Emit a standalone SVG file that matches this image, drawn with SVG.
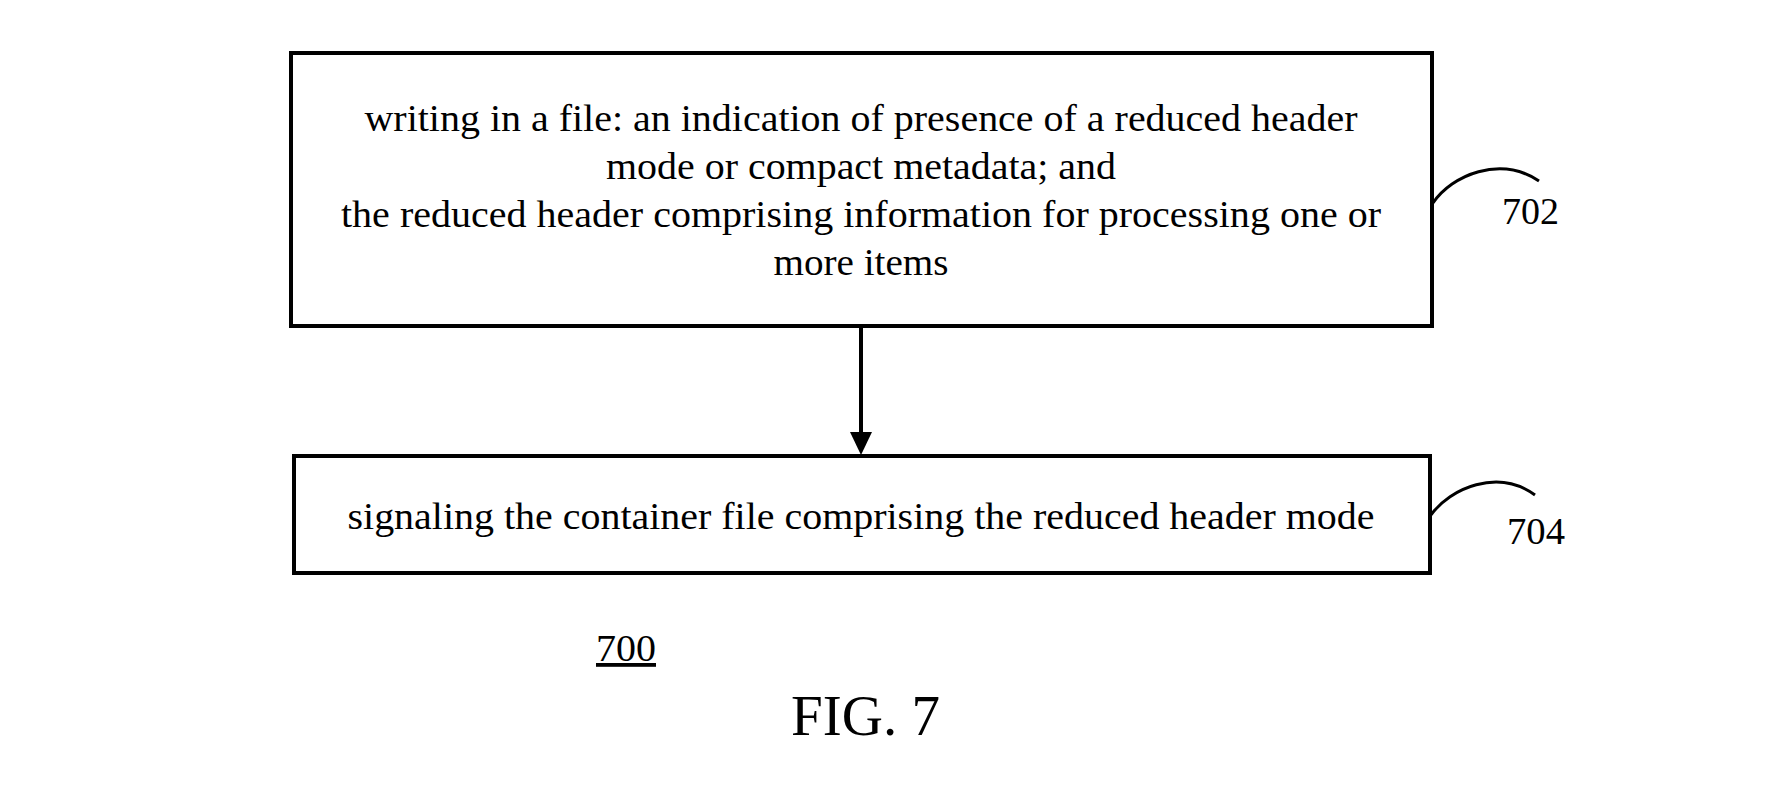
<svg xmlns="http://www.w3.org/2000/svg" width="1774" height="798" viewBox="0 0 1774 798">
<style>
.box{fill:#fff;stroke:#000;stroke-width:4}
.t{font-family:"Liberation Serif","Times New Roman",serif;font-size:38px;fill:#000}
.c{text-anchor:middle}
.conn{fill:none;stroke:#000;stroke-width:4}
.lead{fill:none;stroke:#000;stroke-width:3}
</style>
<rect width="1774" height="798" fill="#fff"/>
<g id="n702">
<rect class="box" x="291" y="53" width="1141" height="273"/>
<text class="t c" x="861" y="131" textLength="993" lengthAdjust="spacingAndGlyphs">writing in a file: an indication of presence of a reduced header</text>
<text class="t c" x="861" y="179" textLength="510" lengthAdjust="spacingAndGlyphs">mode or compact metadata; and</text>
<text class="t c" x="861" y="227" textLength="1040" lengthAdjust="spacingAndGlyphs">the reduced header comprising information for processing one or</text>
<text class="t c" x="861" y="275" textLength="175" lengthAdjust="spacingAndGlyphs">more items</text>
<path class="lead" d="M1433,203 C1452,175 1500,155 1539,181"/>
<text class="t" x="1502" y="224" textLength="57" lengthAdjust="spacingAndGlyphs">702</text>
</g>
<g id="n704">
<rect class="box" x="294" y="456" width="1136" height="117"/>
<text class="t c" x="861" y="529" textLength="1027" lengthAdjust="spacingAndGlyphs">signaling the container file comprising the reduced header mode</text>
<path class="lead" d="M1431,515 C1450,488 1498,468 1535,495"/>
<text class="t" x="1507" y="544" textLength="58" lengthAdjust="spacingAndGlyphs">704</text>
</g>
<g id="labels">
<text class="t" x="596" y="661" text-decoration="underline" textLength="60" lengthAdjust="spacingAndGlyphs">700</text>
<text class="t" x="791" y="735" style="font-size:58px" textLength="149" lengthAdjust="spacingAndGlyphs">FIG. 7</text>
</g>
<g id="connectors">
<line class="conn" x1="861" y1="326" x2="861" y2="433"/>
<path d="M850,432 L872,432 L861,455 Z" fill="#000"/>
</g>
</svg>
